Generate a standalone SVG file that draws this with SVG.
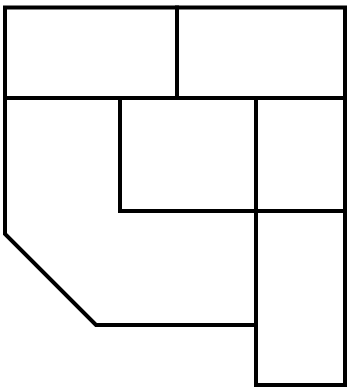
<svg xmlns="http://www.w3.org/2000/svg" width="347" height="390" viewBox="0 0 347 390">
<style>
.l{fill:none;stroke:#000;stroke-width:4;stroke-linecap:square;stroke-linejoin:miter}
</style>
<rect width="347" height="390" fill="#fff"/>
<g id="outline">
<path class="l" d="M5,7.5 H345 V385 H256 V325 H96 L5,234 Z"/>
</g>
<g id="walls">
<path class="l" d="M5,98 H345"/>
<path class="l" d="M177,7.5 V98"/>
<path class="l" d="M120,98 V211 H345"/>
<path class="l" d="M256,98 V385"/>
</g>
</svg>
